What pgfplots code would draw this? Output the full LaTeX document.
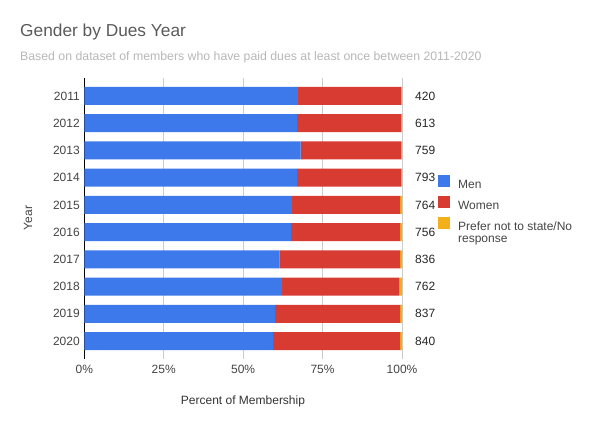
\documentclass[border=0pt]{standalone}
\usepackage{pgfplots}
\pgfplotsset{compat=1.18}
\usepackage{fontspec}
\setmainfont{Liberation Sans}
\definecolor{cmen}{HTML}{3D79EA}
\definecolor{cwomen}{HTML}{D73B32}
\definecolor{cother}{HTML}{F3B01A}
\definecolor{ctick}{HTML}{444444}
\definecolor{ctitle}{HTML}{5A5A5A}
\definecolor{csub}{HTML}{B7B7B7}
\definecolor{cgrid}{HTML}{CCCCCC}
\begin{document}
\begin{tikzpicture}[x=1pt,y=1pt]
\path[use as bounding box] (0,0) rectangle (589,429);
\node[anchor=base west,inner sep=0,text=ctitle,font=\fontsize{17.3}{20}\selectfont] at (20,392) {Gender by Dues Year};
\node[anchor=base west,inner sep=0,text=csub,font=\fontsize{12.3}{14}\selectfont] at (20,368.5) {Based on dataset of members who have paid dues at least once between 2011-2020};
\begin{axis}[
  at={(84.3pt,70pt)}, anchor=south west,
  scale only axis, width=317.7pt, height=281pt,
  xbar stacked, bar width=18pt,
  xmin=0, xmax=100, ymin=-0.66, ymax=9.66,
  y dir=reverse,
  ytick={0,...,9},
  yticklabels={2011,2012,2013,2014,2015,2016,2017,2018,2019,2020},
  xtick={0,25,50,75,100},
  xticklabel={\pgfmathprintnumber{\tick}\%},
  /pgf/number format/assume math mode=true,
  major tick length=0pt,
  axis x line*=bottom,
  axis y line*=left,
  x axis line style={draw=none},
  y axis line style={draw=black,line width=0.8pt,-},
  xmajorgrids, grid style={draw=cgrid,line width=0.8pt},
  ticklabel style={font=\fontsize{12}{14}\selectfont,text=ctick},
  xticklabel style={yshift=-3pt},
  yticklabel style={xshift=-1pt},
  legend style={at={(1.113,0.655)},anchor=north west,draw=none,fill=none,
    font=\fontsize{12}{12}\selectfont,text=ctick,row sep=6pt,
    inner sep=0pt, nodes={inner sep=0pt}},
  legend cell align=left,
  legend image code/.code={\fill[#1] (0pt,-2pt) rectangle (12pt,10pt);},
  clip=false,
]
\addplot[fill=cmen,draw=none] coordinates {(67.2,0) (67.0,1) (68.1,2) (67.0,3) (65.3,4) (65.1,5) (61.5,6) (62.2,7) (60.1,8) (59.4,9)};
\addplot[fill=cwomen,draw=none] coordinates {(32.5,0) (32.8,1) (31.7,2) (32.7,3) (34.1,4) (34.3,5) (37.9,6) (36.9,7) (39.3,8) (40.0,9)};
\addplot[fill=cother,draw=none] coordinates {(0.3,0) (0.2,1) (0.2,2) (0.3,3) (0.6,4) (0.6,5) (0.6,6) (0.9,7) (0.6,8) (0.6,9)};
\legend{\hspace{8pt}Men,\hspace{8pt}Women,\hspace{8pt}\raisebox{0pt}[\height][0pt]{\parbox[t]{130pt}{\baselineskip=12pt Prefer not to state/No\\response}}}
\foreach \v [count=\i from 0] in {420,613,759,793,764,756,836,762,837,840}{
  \edef\tmp{\noexpand\node[anchor=west,inner sep=0pt,text=black!85,font=\noexpand\fontsize{12}{14}\noexpand\selectfont] at (axis cs:100,\i) [xshift=13pt] {\v};}
  \tmp
}
\end{axis}
\node[rotate=90,text=ctick,font=\fontsize{12}{14}\selectfont] at (28,211) {Year};
\node[text=black!80,font=\fontsize{12}{14}\selectfont] at (243,28) {Percent of Membership};
\end{tikzpicture}
\end{document}
